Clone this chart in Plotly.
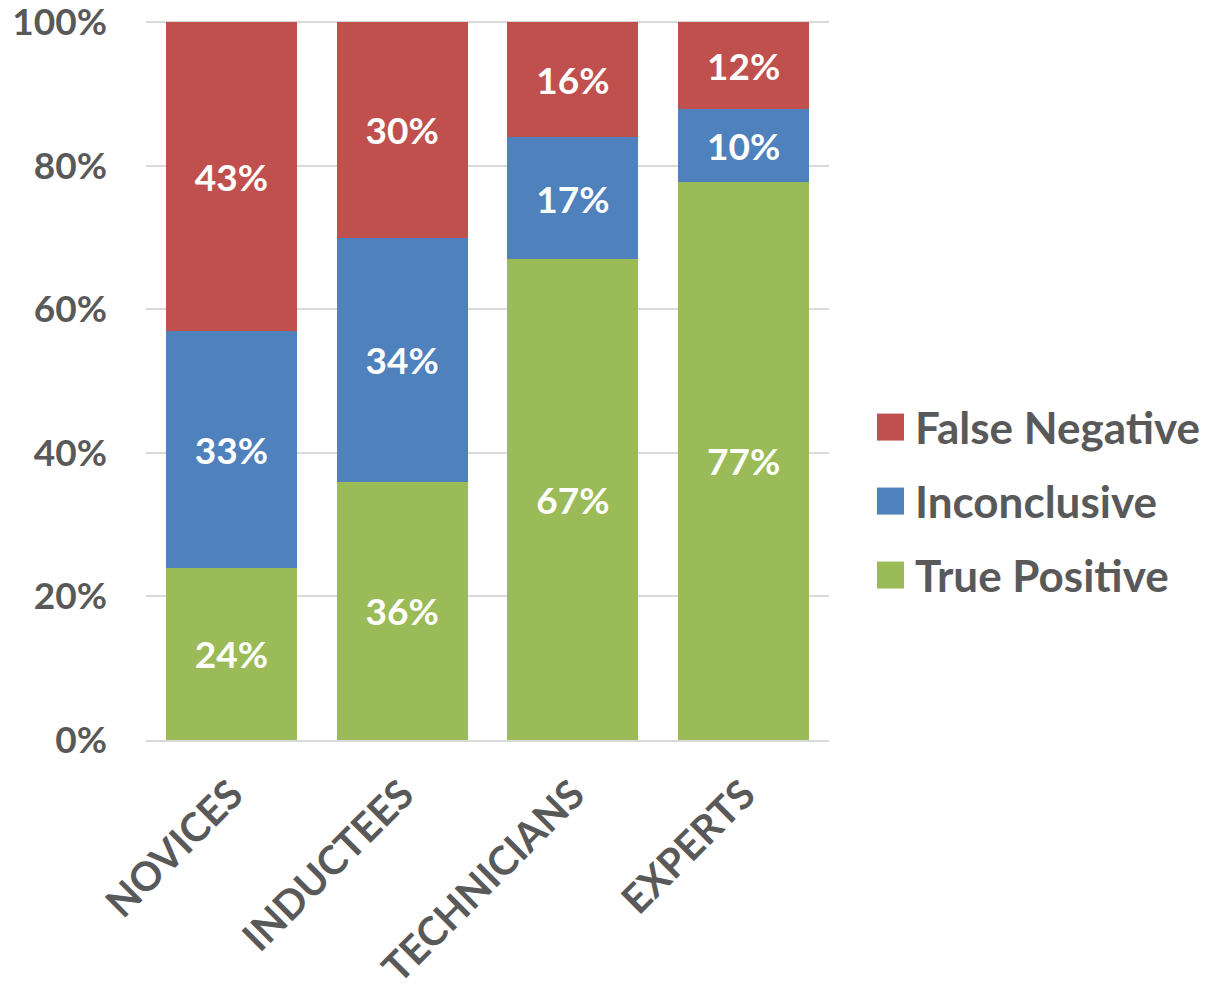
import plotly.graph_objects as go

categories = ["NOVICES", "INDUCTEES", "TECHNICIANS", "EXPERTS"]
true_positive = [24, 36, 67, 77]
inconclusive = [33, 34, 17, 10]
false_negative = [43, 30, 16, 12]
series_names = ["True Positive", "Inconclusive", "False Negative"]
series_values = [true_positive, inconclusive, false_negative]
series_colors = ["#9BBB59", "#4F81BD", "#C0504D"]
y_ticks = [0, 20, 40, 60, 80, 100]
y_tick_labels = ["0%", "20%", "40%", "60%", "80%", "100%"]

FONT = "Lato"
GRAY = "#595959"

# plot area in pixels (0% at y=740, 100% at y=22)
Y_TOP = 101
px_per_unit = (740 - 22) / 100
plot_h = Y_TOP * px_per_unit
top_margin = 740 - plot_h

fig = go.Figure()
for name, vals, col in zip(series_names, series_values, series_colors):
    fig.add_trace(go.Bar(
        x=categories, y=vals, name=name,
        marker=dict(color=col, line=dict(width=0)),
        text=[f"{v}%" for v in vals],
        textposition="inside", insidetextanchor="middle", textangle=0,
        constraintext="none",
        textfont=dict(family=FONT, size=37, color="white", weight="bold"),
        showlegend=False,
        hoverinfo="skip",
    ))

# Legend drawn to match the reference (large square swatches)
legend_order = [2, 1, 0]
legend_y = [427, 501, 575]
for yy, idx in zip(legend_y, legend_order):
    fig.add_shape(type="rect", xref="paper", yref="y",
                  x0=(877 - 146) / 683, x1=(904 - 146) / 683,
                  y0=(740 - (yy + 13.5)) / px_per_unit, y1=(740 - (yy - 13.5)) / px_per_unit,
                  fillcolor=series_colors[idx], line=dict(width=0))
    fig.add_annotation(xref="paper", yref="y",
                       x=(913 - 146) / 683, y=(740 - yy) / px_per_unit,
                       xanchor="left", yanchor="middle", showarrow=False,
                       text=series_names[idx],
                       font=dict(family=FONT, size=44, color=GRAY, weight="bold"))

fig.update_layout(
    barmode="stack", barnorm="percent", bargap=0.232,
    width=1209, height=987,
    margin=dict(l=146, r=380, t=top_margin, b=247),
    plot_bgcolor="white", paper_bgcolor="white",
    font=dict(family=FONT, color=GRAY),
)
fig.update_yaxes(range=[0, Y_TOP], tickmode="array", tickvals=y_ticks,
                 ticktext=y_tick_labels, automargin=False,
                 ticklabeloverflow="allow",
                 showgrid=True, gridcolor="#D9D9D9", gridwidth=1.5,
                 zeroline=False, ticks="", ticklabelstandoff=38,
                 tickfont=dict(family=FONT, size=37, color=GRAY, weight="bold"),
                 showline=False)
fig.update_xaxes(tickangle=-45, ticks="", ticklabelstandoff=13, automargin=False,
                 ticklabeloverflow="allow",
                 showline=True, linecolor="#D9D9D9", linewidth=2,
                 tickfont=dict(family=FONT, size=40, color=GRAY, weight="bold"))

fig.write_html("out.html", config={"displayModeBar": False},
               post_script="document.body.style.margin='0';")
